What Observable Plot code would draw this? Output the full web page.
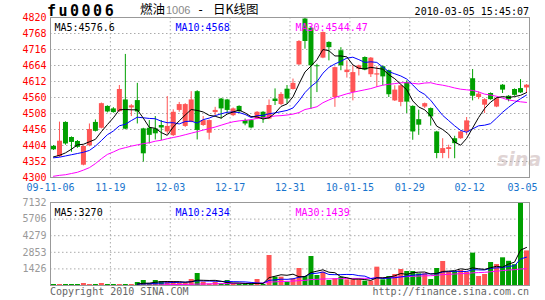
<!DOCTYPE html>
<html><head><meta charset="utf-8">
<script src="https://cdn.jsdelivr.net/npm/d3@7"></script>
<script src="https://cdn.jsdelivr.net/npm/@observablehq/plot@0.6"></script>
<style>
body{margin:0;background:#fff;}
#c{position:relative;width:545px;height:300px;overflow:hidden;background:#fff;font-family:"DejaVu Sans Mono",monospace;}
.t{position:absolute;white-space:nowrap;line-height:1;}
#c svg{position:absolute;left:0;background:transparent;}
</style></head><body><div id="c"></div>
<script>
// ---- data ----
const dates = ["11-06","11-09","11-10","11-11","11-12","11-13","11-16","11-17","11-18","11-19","11-20","11-23","11-24","11-25","11-26","11-27","11-30",
"12-01","12-02","12-03","12-04","12-07","12-08","12-09","12-10","12-11","12-14","12-15","12-16","12-17","12-18","12-21","12-22","12-23","12-24","12-25","12-28","12-29","12-30","12-31",
"01-04","01-05","01-06","01-07","01-08","01-11","01-12","01-13","01-14","01-15","01-18","01-19","01-20","01-21","01-22","01-25","01-26","01-27","01-28","01-29",
"02-01","02-02","02-03","02-04","02-05","02-08","02-09","02-10","02-11","02-12","02-22","02-23","02-24","02-25","02-26",
"03-01","03-02","03-03","03-04","03-05"];
const open = [4401,4368,4479,4430,4417,4340,4403,4479,4460,4531,4523,4514,4552,4526,4550,4458,4460,4458,4469,4448,4436,4518,4466,4480,4579,4469,4444,4511,4555,4552,4501,4531,4485,4485,4490,4512,4490,4555,4537,4587,4586,4666,4815,4785,4663,4688,4739,4560,4712,4641,4576,4652,4690,4634,4633,4660,4647,4549,4544,4608,4531,4488,4529,4524,4448,4378,4391,4426,4426,4448,4621,4560,4535,4573,4529,4600,4564,4586,4589,4591];
const high = [4404,4480,4481,4432,4420,4403,4474,4487,4542,4533,4527,4599,4700,4537,4606,4460,4485,4498,4485,4563,4520,4544,4540,4579,4582,4498,4487,4528,4557,4554,4526,4533,4490,4487,4514,4514,4552,4588,4576,4599,4620,4745,4820,4788,4668,4773,4741,4659,4722,4679,4663,4665,4692,4690,4660,4662,4649,4598,4600,4614,4533,4519,4542,4526,4450,4426,4405,4434,4450,4495,4651,4578,4556,4575,4560,4602,4566,4588,4618,4602];
const low = [4388,4365,4405,4382,4395,4338,4400,4448,4458,4510,4509,4512,4455,4498,4474,4350,4409,4422,4420,4440,4433,4512,4463,4478,4422,4466,4422,4501,4490,4509,4498,4508,4468,4458,4488,4476,4488,4534,4534,4539,4584,4664,4717,4522,4576,4686,4679,4528,4647,4623,4549,4630,4647,4625,4593,4598,4560,4547,4530,4508,4421,4437,4524,4467,4361,4361,4361,4361,4424,4437,4549,4553,4508,4551,4527,4573,4546,4564,4573,4573];
const close = [4390,4418,4409,4414,4398,4401,4456,4450,4540,4513,4511,4586,4457,4533,4513,4377,4437,4442,4461,4466,4512,4537,4537,4552,4453,4485,4485,4518,4523,4518,4523,4514,4474,4461,4512,4490,4534,4547,4570,4555,4606,4742,4742,4663,4660,4771,4722,4657,4663,4649,4641,4663,4649,4688,4637,4627,4569,4584,4598,4545,4448,4470,4540,4497,4378,4394,4397,4410,4448,4484,4564,4571,4553,4553,4556,4584,4553,4567,4575,4600];
const ma5 = [4367,4372,4380,4392,4406,4408,4416,4424,4449,4472,4494,4520,4521,4520,4520,4493,4463,4460,4446,4437,4464,4484,4503,4521,4518,4513,4502,4499,4493,4506,4513,4519,4510,4498,4497,4490,4494,4509,4531,4539,4562,4604,4643,4662,4683,4716,4712,4695,4695,4692,4666,4655,4653,4658,4655,4652,4634,4621,4603,4585,4549,4529,4520,4500,4467,4456,4441,4415,4405,4427,4461,4495,4524,4545,4559,4563,4560,4563,4567,4576];
const ma10 = [4364,4366,4370,4374,4378,4382,4388,4402,4420,4439,4451,4468,4473,4485,4496,4494,4492,4491,4483,4478,4478,4474,4482,4483,4477,4488,4493,4501,4507,4512,4513,4511,4505,4495,4501,4502,4507,4510,4514,4518,4526,4549,4576,4596,4611,4639,4658,4669,4678,4688,4691,4683,4674,4676,4674,4659,4644,4637,4630,4620,4601,4581,4570,4551,4526,4502,4485,4468,4453,4447,4458,4468,4470,4475,4493,4512,4528,4543,4556,4568];
const ma30 = [4304,4307,4309,4313,4317,4324,4332,4345,4361,4375,4383,4392,4397,4402,4406,4410,4413,4418,4421,4426,4430,4434,4439,4444,4449,4454,4459,4464,4470,4476,4481,4484,4486,4488,4492,4494,4497,4500,4501,4503,4506,4511,4521,4525,4530,4543,4552,4560,4566,4572,4577,4581,4585,4589,4595,4600,4603,4605,4608,4608,4606,4604,4607,4608,4603,4600,4596,4591,4587,4585,4583,4578,4571,4568,4564,4558,4552,4549,4546,4544];
const volume = [86,86,86,86,86,172,86,86,172,86,86,86,86,86,258,430,172,430,344,344,344,200,200,516,1031,286,120,258,150,430,120,86,86,86,516,86,2578,716,716,287,573,1461,774,2492,860,1146,430,573,716,487,487,487,373,373,1576,487,774,946,1375,1203,1203,1002,1002,516,1461,2063,1146,1203,1289,1146,2779,774,946,1977,1805,2380,2080,1790,7132,2970];
const volMa5 = [null,null,null,null,null,null,null,null,null,null,null,null,null,null,120,189,206,275,327,344,327,332,286,321,458,447,431,442,369,249,216,209,174,162,179,172,670,796,922,877,974,751,762,1117,1232,1347,1140,1100,745,670,539,550,510,441,659,659,717,831,1032,957,1100,1146,1157,985,1037,1209,1238,1278,1432,1369,1513,1438,1387,1524,1656,1576,1838,2006,3037,3270];
const volMa10 = [null,null,null,null,null,null,null,null,null,null,null,null,null,null,120,146,155,189,206,232,258,269,281,324,401,387,382,364,345,354,331,320,308,265,214,194,440,485,542,528,573,711,779,1020,1054,1160,946,931,931,951,943,845,805,593,665,599,633,671,737,808,880,931,994,1008,997,1155,1192,1217,1209,1203,1361,1338,1332,1478,1513,1545,1638,1697,2281,2434];
const volMa30 = [null,null,null,null,null,null,null,null,null,null,null,null,null,null,30,35,40,50,60,70,80,90,95,105,120,130,140,150,160,170,175,180,185,190,200,205,290,315,340,360,380,420,440,510,530,560,570,580,590,600,605,610,615,615,660,665,680,700,740,760,790,810,830,840,880,930,960,985,1020,1030,1090,1110,1130,1180,1230,1280,1330,1360,1420,1439];
const priceTicks = [4300,4352,4404,4456,4508,4560,4612,4664,4716,4768,4820];
const volTicks = [1426,2853,4279,5706,7132];
const xTickIdx = [0,10,20,30,40,50,60,70,80];
const xTickLabels = ["09-11-06","11-19","12-03","12-17","12-31","10-01-15","01-29","02-12","03-05"];
const priceMaLabels = ["MA5:4576.6","MA10:4568","MA30:4544.47"];
const volMaLabels = ["MA5:3270","MA10:2434","MA30:1439"];

// ---- styles ----
const RED = "#ff5555", GREEN = "#00a000", GRID = "#aaaaaa", FRAME = "#999999";
const MA_COLORS = ["#000000", "#0000ff", "#ff00ff"];
const FONT = {fontFamily: "DejaVu Sans Mono", fontSize: "10px", background: "transparent", overflow: "visible"};

const rows = dates.map((d, i) => ({i, x: i + 0.5, o: open[i], h: high[i], l: low[i], c: close[i], v: volume[i], up: close[i] >= open[i]}));
const ups = rows.filter(d => d.up), downs = rows.filter(d => !d.up);
const line = (arr, k) => Plot.lineY(arr, {x: (d, i) => i + 0.5, y: d => d, stroke: MA_COLORS[k], strokeWidth: 1, defined: d => d != null});

const price = Plot.plot({
  width: 545, height: 200, marginLeft: 50, marginRight: 16, marginTop: 17, marginBottom: 23,
  x: {domain: [0, 80], axis: null},
  y: {domain: [4300, 4820]},
  style: FONT,
  marks: [
    Plot.ruleY(priceTicks.slice(1, -1), {stroke: GRID, strokeDasharray: "1.5,2.5"}),
    Plot.ruleX(xTickIdx.slice(1, -1), {stroke: GRID, strokeDasharray: "1.5,2.5"}),
    Plot.ruleX(ups, {x: "x", y1: "l", y2: "h", stroke: RED}),
    Plot.ruleX(downs, {x: "x", y1: "l", y2: "h", stroke: GREEN}),
    Plot.ruleX(ups, {x: "x", y1: "o", y2: "c", stroke: RED, strokeWidth: 5}),
    Plot.ruleX(downs, {x: "x", y1: "o", y2: "c", stroke: GREEN, strokeWidth: 5}),
    line(ma30, 2), line(ma10, 1), line(ma5, 0),
    Plot.frame({stroke: FRAME}),
    Plot.axisY(priceTicks, {tickSize: 0, tickPadding: 4, fill: "#ff0000", tickFormat: d => String(d), label: null}),
    Plot.text(xTickIdx.slice(0, -1), {x: d => d, text: (d, i) => xTickLabels[i], frameAnchor: "bottom", dy: 13, fill: "#1874cd"}),
    Plot.text(xTickIdx.slice(-1), {x: d => d, text: () => xTickLabels[xTickLabels.length - 1], frameAnchor: "bottom", dy: 13, dx: -7, fill: "#1874cd"}),
    Plot.text([priceMaLabels[0]], {frameAnchor: "top-left", dx: 4, dy: 6, textAnchor: "start", fill: MA_COLORS[0]}),
    Plot.text([priceMaLabels[1]], {frameAnchor: "top-left", dx: 125, dy: 6, textAnchor: "start", fill: MA_COLORS[1]}),
    Plot.text([priceMaLabels[2]], {frameAnchor: "top-left", dx: 245, dy: 6, textAnchor: "start", fill: MA_COLORS[2]})
  ]
});
price.style.top = "0px";

const vol = Plot.plot({
  width: 545, height: 100, marginLeft: 50, marginRight: 16, marginTop: 12, marginBottom: 5,
  x: {domain: [0, 80], axis: null},
  y: {domain: [0, 7132]},
  style: FONT,
  marks: [
    Plot.ruleY(volTicks.slice(0, -1), {stroke: GRID, strokeDasharray: "1.5,2.5"}),
    Plot.ruleX(xTickIdx.slice(1, -1), {stroke: GRID, strokeDasharray: "1.5,2.5"}),
    Plot.ruleX(ups, {x: "x", y1: 0, y2: "v", stroke: RED, strokeWidth: 5}),
    Plot.ruleX(downs, {x: "x", y1: 0, y2: "v", stroke: GREEN, strokeWidth: 5}),
    line(volMa30, 2), line(volMa10, 1), line(volMa5, 0),
    Plot.frame({stroke: FRAME}),
    Plot.axisY(volTicks, {tickSize: 0, tickPadding: 4, fill: "#999999", tickFormat: d => String(d), label: null}),
    Plot.text([volMaLabels[0]], {frameAnchor: "top-left", dx: 4, dy: 6, textAnchor: "start", fill: MA_COLORS[0]}),
    Plot.text([volMaLabels[1]], {frameAnchor: "top-left", dx: 125, dy: 6, textAnchor: "start", fill: MA_COLORS[1]}),
    Plot.text([volMaLabels[2]], {frameAnchor: "top-left", dx: 245, dy: 6, textAnchor: "start", fill: MA_COLORS[2]})
  ]
});
vol.style.top = "190px";

const c = document.getElementById("c");
function addText(txt, css) {
  const el = document.createElement("div");
  el.className = "t";
  el.textContent = txt;
  Object.assign(el.style, css);
  c.appendChild(el);
  return el;
}
// watermark behind the charts
addText("sina", {left: "497px", top: "150px", fontFamily: "DejaVu Sans", fontStyle: "italic", fontWeight: "bold", fontSize: "19px", color: "#e0d4d4"});
c.appendChild(price);
c.appendChild(vol);
addText("fu0006", {left: "47px", top: "4px", fontFamily: "DejaVu Sans Mono", fontWeight: "bold", fontSize: "15px", letterSpacing: "2.5px", color: "#000"});
addText("燃油", {left: "140px", top: "3px", fontFamily: "Noto Sans CJK SC", fontSize: "12.5px", color: "#000"});
addText("1006", {left: "166px", top: "5px", fontFamily: "Liberation Sans", fontSize: "11px", color: "#888"});
addText("-", {left: "197px", top: "4px", fontFamily: "DejaVu Sans Mono", fontSize: "12px", color: "#000"});
addText("日K线图", {left: "213px", top: "3px", fontFamily: "Noto Sans CJK SC", fontSize: "12.5px", color: "#000"});
addText("2010-03-05 15:45:07", {right: "16px", top: "7px", fontFamily: "DejaVu Sans Mono", fontSize: "10px", color: "#000"});
addText("Copyright 2010 SINA.COM", {left: "50px", top: "287px", fontFamily: "DejaVu Sans Mono", fontSize: "10px", color: "#666"});
addText("http://finance.sina.com.cn", {right: "16px", top: "287px", fontFamily: "DejaVu Sans Mono", fontSize: "10px", color: "#666"});
</script>
</body></html>
